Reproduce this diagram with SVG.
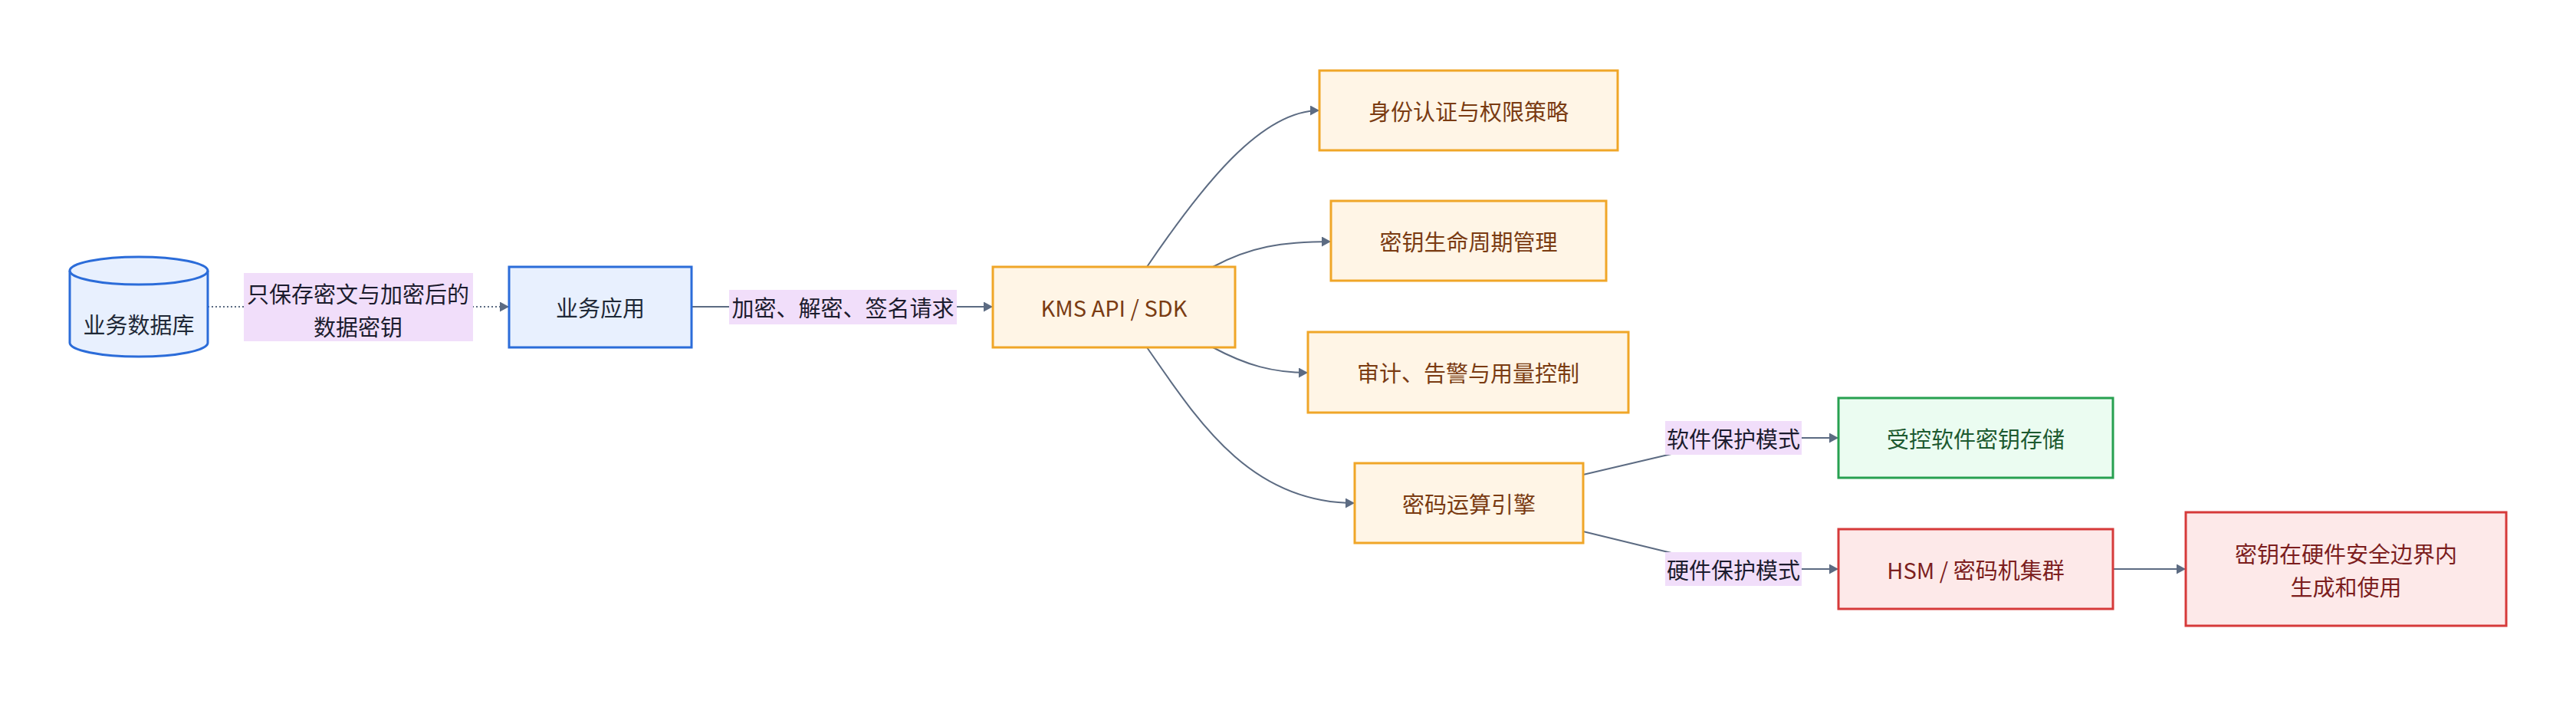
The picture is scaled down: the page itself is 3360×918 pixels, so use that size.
<svg xmlns="http://www.w3.org/2000/svg" width="3360" height="918" viewBox="0 0 3360 918">
<style>
text{font-family:"Noto Sans CJK SC","Noto Sans",sans-serif;font-size:29px;text-anchor:middle;dominant-baseline:central}
.blue rect,.blue path.b{fill:#e8f0fe;stroke:#2b6cd9;stroke-width:3}
.blue text{fill:#1f2937}
.orange rect{fill:#fff5e6;stroke:#f0a628;stroke-width:3}
.orange text{fill:#7a3b12}
.green rect{fill:#ebfcf1;stroke:#27a050;stroke-width:3}
.green text{fill:#1d5a30}
.red rect{fill:#fde9e9;stroke:#d63a3a;stroke-width:3}
.red text{fill:#7c1e1e}
.lbl rect{fill:#f1defa;stroke:none}
.lbl text{fill:#1c1c2e}
.edge{fill:none;stroke:#5c6b82;stroke-width:2}
.dot{fill:none;stroke:#5c6b82;stroke-width:2;stroke-dasharray:2 3}
</style>
<defs>
<marker id="arr" markerUnits="userSpaceOnUse" markerWidth="12" markerHeight="13" viewBox="0 0 12 13" refX="12" refY="6.5" orient="auto">
<path d="M0,0 L12,6.5 L0,13 z" fill="#5c6b82"/>
</marker>
</defs>
<rect width="3360" height="918" fill="#ffffff"/>
<g id="connectors">
<path class="dot" d="M271,400 L664,400" marker-end="url(#arr)"/>
<path class="edge" d="M902,400 L1295,400" marker-end="url(#arr)"/>
<path class="edge" d="M1496,348 C1568,242 1645,144 1721,144" marker-end="url(#arr)"/>
<path class="edge" d="M1582,348 C1630,322 1672,315 1736,315" marker-end="url(#arr)"/>
<path class="edge" d="M1582,453 C1625,476 1660,486 1706,486" marker-end="url(#arr)"/>
<path class="edge" d="M1496,453 C1562,548 1630,656 1767,656" marker-end="url(#arr)"/>
<path class="edge" d="M2065,619 L2180,592 L2261,571 L2398,571" marker-end="url(#arr)"/>
<path class="edge" d="M2065,693 L2180,721 L2261,742 L2398,742" marker-end="url(#arr)"/>
<path class="edge" d="M2756,742 L2851,742" marker-end="url(#arr)"/>
</g>
<g id="edge-label-1" class="lbl">
<rect x="318" y="356" width="299" height="89"/>
<text x="467" y="382">只保存密文与加密后的</text>
<text x="467" y="425">数据密钥</text>
</g>
<g id="edge-label-2" class="lbl">
<rect x="951" y="378" width="297" height="45"/>
<text x="1099.5" y="400">加密、解密、签名请求</text>
</g>
<g id="edge-label-3" class="lbl">
<rect x="2172" y="549" width="178" height="44"/>
<text x="2261" y="571">软件保护模式</text>
</g>
<g id="edge-label-4" class="lbl">
<rect x="2172" y="720" width="178" height="44"/>
<text x="2261" y="742">硬件保护模式</text>
</g>
<g id="db" class="blue">
<path class="b" d="M91,353 A90,18 0 0 1 271,353 L271,447 A90,18 0 0 1 91,447 Z"/>
<path d="M91,353 A90,18 0 0 0 271,353" fill="none" stroke="#2b6cd9" stroke-width="3"/>
<text x="181" y="422">业务数据库</text>
</g>
<g id="app" class="blue">
<rect x="664" y="348" width="238" height="105"/>
<text x="783" y="400">业务应用</text>
</g>
<g id="kms" class="orange">
<rect x="1295" y="348" width="316" height="105"/>
<text x="1453" y="400">KMS API / SDK</text>
</g>
<g id="auth" class="orange">
<rect x="1721" y="92" width="389" height="104"/>
<text x="1915.5" y="144">身份认证与权限策略</text>
</g>
<g id="lifecycle" class="orange">
<rect x="1736" y="262" width="359" height="104"/>
<text x="1915.5" y="314">密钥生命周期管理</text>
</g>
<g id="audit" class="orange">
<rect x="1706" y="433" width="418" height="105"/>
<text x="1915" y="485">审计、告警与用量控制</text>
</g>
<g id="engine" class="orange">
<rect x="1767" y="604" width="298" height="104"/>
<text x="1916" y="656">密码运算引擎</text>
</g>
<g id="softstore" class="green">
<rect x="2398" y="519" width="358" height="104"/>
<text x="2577" y="571">受控软件密钥存储</text>
</g>
<g id="hsm" class="red">
<rect x="2398" y="690" width="358" height="104"/>
<text x="2577" y="742">HSM / 密码机集群</text>
</g>
<g id="boundary" class="red">
<rect x="2851" y="668" width="418" height="148"/>
<text x="3060" y="721">密钥在硬件安全边界内</text>
<text x="3060" y="764">生成和使用</text>
</g>
</svg>
